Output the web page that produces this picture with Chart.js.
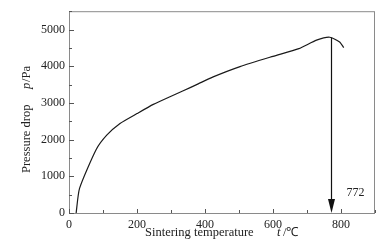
<!DOCTYPE html>
<html>
<head>
<meta charset="utf-8">
<script src="https://cdn.jsdelivr.net/npm/chart.js@4"></script>
<style>
  html, body { margin: 0; padding: 0; background: #fff; }
  #wrap { width: 390px; height: 248px; }
</style>
</head>
<body>
<div id="wrap"><canvas id="pressureChart" width="390" height="248"></canvas></div>
<script>
// sintering temperature (℃) and pressure drop (Pa)
const temps = [21, 31, 80, 111, 150, 200, 248, 297, 336, 380, 424, 503, 600, 676, 728, 767, 796, 808];
const pressures = [0, 670, 1730, 2120, 2440, 2710, 2960, 3170, 3330, 3520, 3710, 3990, 4270, 4480, 4710, 4790, 4660, 4510];

// tick labels
const xTicks = [0, 200, 400, 600, 800];
const yTicks = [0, 1000, 2000, 3000, 4000, 5000];

// peak marker
const peakTemp = 772;
const peakTop = 4780;
const peakLabel = '772';
const peakLabelAt = [843, 550];

const xMax = 900, xMinor = 100;
const yMax = 5500, yMinor = 500;

const serif = '"Liberation Serif", "Times New Roman", serif';
const boxColor = '#8a8a8a';

const points = temps.map((t, i) => ({ x: t, y: pressures[i] }));

// box, inward ticks, arrow and axis titles
const decor = {
  id: 'decor',
  afterDatasetsDraw(chart) {
    const { ctx, chartArea: a, scales } = chart;
    const xs = scales.x, ys = scales.y;
    ctx.save();
    ctx.strokeStyle = boxColor;
    ctx.lineWidth = 1;
    ctx.strokeRect(a.left + 0.5, a.top + 0.5, a.right - a.left - 1, a.bottom - a.top);

    ctx.strokeStyle = '#555';
    ctx.beginPath();
    for (let v = 0; v <= xMax; v += xMinor) {
      const px = Math.round(xs.getPixelForValue(v)) + 0.5;
      const len = xTicks.includes(v) ? 4 : 3;
      ctx.moveTo(px, a.bottom);
      ctx.lineTo(px, a.bottom - len);
    }
    for (let v = 0; v <= yMax; v += yMinor) {
      const py = Math.round(ys.getPixelForValue(v)) + 0.5;
      const len = yTicks.includes(v) ? 5 : 3;
      ctx.moveTo(a.left, py);
      ctx.lineTo(a.left + len, py);
    }
    ctx.stroke();

    // arrow from the peak down to the axis
    const ax = Math.round(xs.getPixelForValue(peakTemp)) + 0.5;
    const y1 = ys.getPixelForValue(peakTop);
    const y2 = ys.getPixelForValue(0);
    ctx.strokeStyle = '#111';
    ctx.fillStyle = '#111';
    ctx.lineWidth = 1.2;
    ctx.beginPath();
    ctx.moveTo(ax, y1);
    ctx.lineTo(ax, y2 - 10);
    ctx.stroke();
    ctx.beginPath();
    ctx.moveTo(ax - 3.5, y2 - 14);
    ctx.lineTo(ax + 3.5, y2 - 14);
    ctx.lineTo(ax, y2);
    ctx.closePath();
    ctx.fill();

    ctx.fillStyle = '#222';
    ctx.font = '12px ' + serif;
    ctx.textAlign = 'center';
    ctx.textBaseline = 'middle';
    ctx.fillText(peakLabel, xs.getPixelForValue(peakLabelAt[0]), ys.getPixelForValue(peakLabelAt[1]));

    // x title
    ctx.textAlign = 'left';
    ctx.font = '12.5px ' + serif;
    ctx.fillText('Sintering temperature', 145, 233);
    ctx.font = 'italic 12.5px ' + serif;
    ctx.fillText('t', 277, 233);
    ctx.font = '12.5px ' + serif;
    ctx.fillText('/℃', 283, 233);

    // y title
    ctx.translate(27, 173);
    ctx.rotate(-Math.PI / 2);
    ctx.fillText('Pressure drop', 0, 0);
    ctx.font = 'italic 12.5px ' + serif;
    ctx.fillText('p', 84, 0);
    ctx.font = '12.5px ' + serif;
    ctx.fillText('/Pa', 91, 0);
    ctx.restore();
  }
};

new Chart(document.getElementById('pressureChart'), {
  type: 'line',
  data: {
    datasets: [{
      data: points,
      borderColor: '#1a1a1a',
      borderWidth: 1.2,
      pointRadius: 0,
      tension: 0.2,
      fill: false
    }]
  },
  options: {
    responsive: false,
    animation: false,
    events: [],
    layout: { padding: { top: 11, right: 15, left: 0, bottom: 0 } },
    plugins: { legend: { display: false }, tooltip: { enabled: false } },
    scales: {
      x: {
        type: 'linear',
        min: 0,
        max: xMax,
        grid: { display: false, drawTicks: false },
        border: { display: false },
        afterBuildTicks(s) { s.ticks = xTicks.map(v => ({ value: v })); },
        ticks: { autoSkip: false, color: '#222', font: { family: serif, size: 12 }, padding: 5, maxRotation: 0, callback: v => String(v) },
        afterFit(s) { s.height = 35; }
      },
      y: {
        min: 0,
        max: yMax,
        grid: { display: false, drawTicks: false },
        border: { display: false },
        afterBuildTicks(s) { s.ticks = yTicks.map(v => ({ value: v })); },
        ticks: { autoSkip: false, color: '#222', font: { family: serif, size: 12 }, padding: 4, callback: v => String(v) },
        afterFit(s) { s.width = 69; }
      }
    }
  },
  plugins: [decor]
});
</script>
</body>
</html>
